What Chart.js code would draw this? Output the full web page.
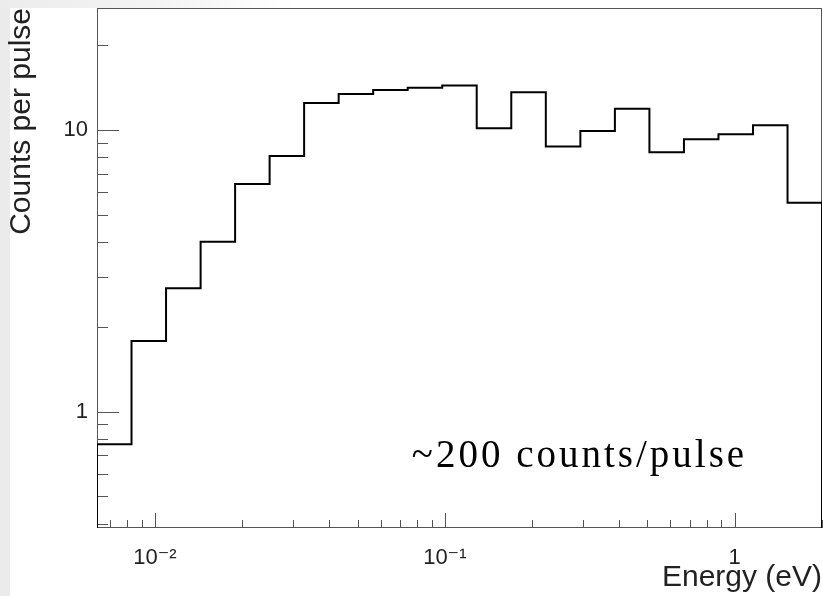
<!DOCTYPE html>
<html>
<head>
<meta charset="utf-8">
<script src="https://cdn.jsdelivr.net/npm/chart.js@4/dist/chart.umd.min.js"></script>
<style>
    html, body { margin: 0; padding: 0; background: #fff; }
    #wrap { position: relative; width: 823px; height: 596px; overflow: hidden; }
    .strip-left { position: absolute; left: 0; top: 0; width: 10px; height: 596px; background: #ebebeb; }
    .strip-top { position: absolute; left: 0; top: 0; width: 823px; height: 8px;
        background: linear-gradient(to right, #ececec 0px, #f3f3f3 150px, #fff 300px); }
    canvas { position: absolute; left: 0; top: 0; }
</style>
</head>
<body>
<div id="wrap">
    <div class="strip-left"></div>
    <div class="strip-top"></div>
    <canvas id="histChart" width="823" height="596"></canvas>
</div>
<script>
// DATA
// bin edges in eV (21 log bins)
const binEdges = [0.00631, 0.00830, 0.01092, 0.01437, 0.01890, 0.02486, 0.03270, 0.04302,
    0.05659, 0.07444, 0.09795, 0.1288, 0.1695, 0.2230, 0.2934, 0.3860, 0.5078, 0.6680,
    0.8787, 1.156, 1.521, 2.000];
// counts per pulse in each bin
const binCounts = [0.766, 1.78, 2.74, 4.01, 6.43, 8.08, 12.47, 13.42, 13.87, 14.13, 14.37,
    10.14, 13.61, 8.73, 9.92, 11.90, 8.33, 9.27, 9.65, 10.39, 5.51];

const xRange = [0.00631, 2.0];
const yRange = [0.386, 27.1];

const xTickValues = [0.007, 0.008, 0.009, 0.01, 0.02, 0.03, 0.04, 0.05, 0.06, 0.07, 0.08, 0.09,
    0.1, 0.2, 0.3, 0.4, 0.5, 0.6, 0.7, 0.8, 0.9, 1, 2];
const xMajorTicks = [0.01, 0.1, 1];
const xTickLabels = ["10\u207B\u00B2", "10\u207B\u00B9", "1"];

const yTickValues = [0.4, 0.5, 0.6, 0.7, 0.8, 0.9, 1, 2, 3, 4, 5, 6, 7, 8, 9, 10, 20];
const yMajorTicks = [1, 10];
const yTickLabels = ["1", "10"];

const annotationText = "~200 counts/pulse";
const annotationPos = [0.0769, 0.636];   // energy, counts (left / baseline)

// build step outline from the bins
let outline = [{ x: binEdges[0], y: yRange[0] }];
binCounts.forEach((c, i) => {
    outline.push({ x: binEdges[i], y: c });
    outline.push({ x: binEdges[i + 1], y: c });
});
outline.push({ x: binEdges[binEdges.length - 1], y: yRange[0] });

function setTicks(values, majors) {
    return scale => {
        scale.ticks = values.map(v => ({ value: v, major: majors.includes(v) }));
    };
}

function tickLabel(majors, labels) {
    return value => {
        const idx = majors.indexOf(value);
        return idx >= 0 ? labels[idx] : "";
    };
}

// no extra padding for empty edge labels
function fixSize(prop, size) {
    return scale => {
        scale[prop] = size;
        scale.paddingTop = 0;
        scale.paddingBottom = 0;
        scale.paddingLeft = 0;
        scale.paddingRight = 0;
    };
}

// FRAME + INSIDE TICKS (root style)
const framePlugin = {
    id: "frame",
    beforeDatasetsDraw(chart) {
        const { ctx, chartArea: a, scales } = chart;
        ctx.save();
        ctx.strokeStyle = "#555";
        ctx.lineWidth = 1;
        ctx.strokeRect(a.left + 0.5, a.top + 0.5, a.right - a.left - 1, a.bottom - a.top - 1);

        ctx.beginPath();
        scales.x.ticks.forEach(t => {
            const px = Math.round(scales.x.getPixelForValue(t.value)) + 0.5;
            const len = t.major ? 15 : 8;
            ctx.moveTo(px, a.bottom);
            ctx.lineTo(px, a.bottom - len);
        });
        scales.y.ticks.forEach(t => {
            const py = Math.round(scales.y.getPixelForValue(t.value)) + 0.5;
            const len = t.major ? 22 : 11;
            ctx.moveTo(a.left, py);
            ctx.lineTo(a.left + len, py);
        });
        ctx.stroke();
        ctx.restore();
    },
    afterDatasetsDraw(chart) {
        const { ctx, scales } = chart;
        ctx.save();
        ctx.fillStyle = "#000";
        ctx.font = "39px 'Liberation Serif', serif";
        ctx.letterSpacing = "3px";
        ctx.textAlign = "left";
        ctx.textBaseline = "alphabetic";
        ctx.fillText(annotationText,
            scales.x.getPixelForValue(annotationPos[0]),
            scales.y.getPixelForValue(annotationPos[1]));
        ctx.restore();
    }
};

const sans = "'Liberation Sans', 'DejaVu Sans', Arial, sans-serif";

new Chart(document.getElementById("histChart"), {
    type: "line",
    data: {
        datasets: [{
            data: outline,
            borderColor: "#000",
            borderWidth: 2,
            pointRadius: 0,
            fill: false,
            tension: 0,
            borderJoinStyle: "miter"
        }]
    },
    options: {
        responsive: false,
        animation: false,
        events: [],
        layout: { padding: { top: 8, right: 1, left: 0, bottom: 0 } },
        plugins: { legend: { display: false }, tooltip: { enabled: false } },
        scales: {
            x: {
                type: "logarithmic",
                min: xRange[0],
                max: xRange[1],
                grid: { display: false, drawTicks: false },
                border: { display: false },
                afterBuildTicks: setTicks(xTickValues, xMajorTicks),
                afterFit: fixSize("height", 68),
                ticks: {
                    autoSkip: false,
                    maxRotation: 0,
                    padding: 17,
                    color: "#222",
                    font: { family: sans, size: 22 },
                    callback: tickLabel(xMajorTicks, xTickLabels)
                },
                title: {
                    display: true,
                    text: "Energy (eV)",
                    align: "end",
                    color: "#222",
                    font: { family: sans, size: 30 },
                    padding: 0
                }
            },
            y: {
                type: "logarithmic",
                min: yRange[0],
                max: yRange[1],
                grid: { display: false, drawTicks: false },
                border: { display: false },
                afterBuildTicks: setTicks(yTickValues, yMajorTicks),
                afterFit: fixSize("width", 97),
                ticks: {
                    autoSkip: false,
                    padding: 9,
                    color: "#222",
                    font: { family: sans, size: 22 },
                    callback: tickLabel(yMajorTicks, yTickLabels)
                },
                title: {
                    display: true,
                    text: "Counts per pulse",
                    align: "end",
                    color: "#222",
                    font: { family: sans, size: 30 },
                    padding: { top: 4, bottom: 0 }
                }
            }
        }
    },
    plugins: [framePlugin]
});
</script>
</body>
</html>
